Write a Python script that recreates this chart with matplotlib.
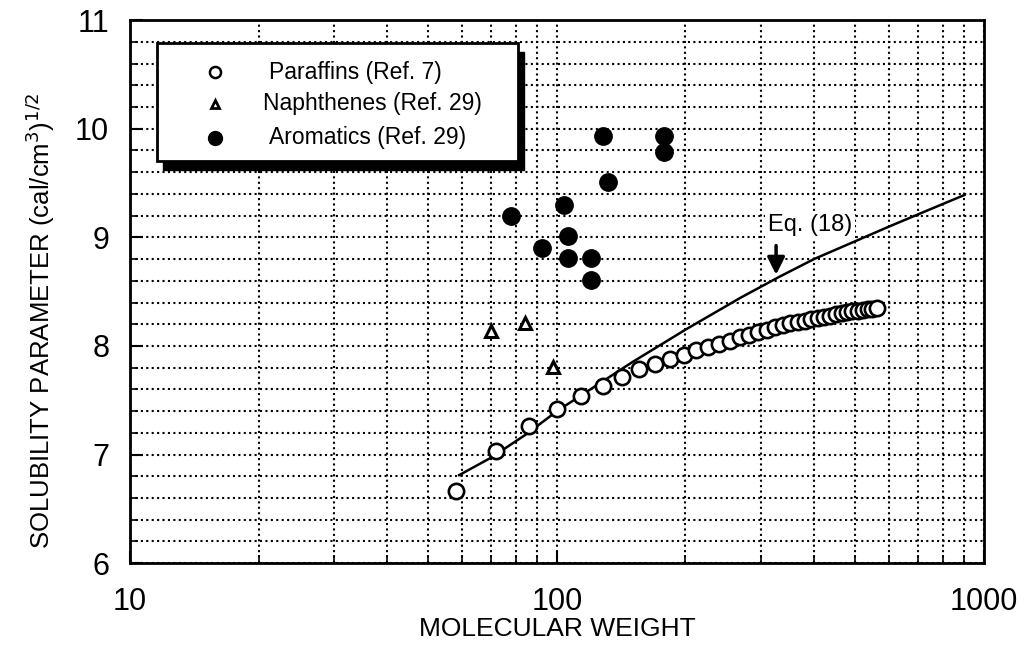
import numpy as np
import matplotlib.pyplot as plt
from matplotlib.patches import Rectangle
from matplotlib.ticker import FixedLocator, NullFormatter

plt.rcParams['font.family'] = ['Liberation Sans', 'DejaVu Sans']

# paraffins (Ref. 7), n-alkanes C4..C40
paraffin_mw = [58, 72, 86, 100, 114, 128, 142, 156, 170, 184, 198, 212, 226,
               240, 254, 268, 282, 296, 310, 324, 338, 352, 366, 380, 394,
               408, 422, 436, 450, 464, 478, 492, 506, 520, 534, 548, 562]
paraffin_sp = [6.66, 7.03, 7.26, 7.42, 7.54, 7.63, 7.71, 7.79, 7.83, 7.88,
               7.92, 7.96, 7.99, 8.02, 8.05, 8.08, 8.10, 8.13, 8.15, 8.17,
               8.19, 8.21, 8.22, 8.23, 8.25, 8.26, 8.27, 8.28, 8.29, 8.30,
               8.31, 8.32, 8.32, 8.33, 8.34, 8.34, 8.35]

# naphthenes (Ref. 29)
naph_mw = [70, 84, 98]
naph_sp = [8.14, 8.21, 7.81]

# aromatics (Ref. 29)
arom_mw = [78, 92, 104, 106, 106, 120, 120, 128, 132, 178, 178]
arom_sp = [9.20, 8.90, 9.30, 9.01, 8.81, 8.81, 8.61, 9.93, 9.51, 9.93, 9.79]

# Eq. (18)
eq_mw = [59, 70, 85, 100, 150, 200, 268, 333, 400, 490, 600, 750, 900]
eq_sp = [6.81, 6.97, 7.19, 7.40, 7.85, 8.15, 8.44, 8.64, 8.80, 8.95, 9.10,
         9.26, 9.39]

fig = plt.figure(figsize=(10.26, 6.51), dpi=100)
ax = fig.add_axes([0.1267, 0.135, 0.8323, 0.834])

ax.plot(eq_mw, eq_sp, color='black', lw=1.8, zorder=3)
ax.plot(paraffin_mw, paraffin_sp, 'o', ms=11, mfc='white', mec='black',
        mew=1.9, zorder=4)
ax.plot(naph_mw, naph_sp, '^', ms=8, mfc='white', mec='black', mew=2.2,
        zorder=4)
ax.plot(arom_mw, arom_sp, 'o', ms=12.5, color='black', zorder=4)

ax.set_xscale('log')
ax.set_xlim(10, 1000)
ax.set_ylim(6, 11)
ax.set_xticks([10, 100, 1000])
ax.set_xticklabels(['10', '100', '1000'])
minor_x = [m * d for d in (10, 100) for m in range(2, 10)]
ax.xaxis.set_minor_locator(FixedLocator(minor_x))
ax.xaxis.set_minor_formatter(NullFormatter())
ax.set_yticks([6, 7, 8, 9, 10, 11])
ax.yaxis.set_minor_locator(FixedLocator(np.arange(6, 11.01, 0.2)))

ax.grid(True, which='both', linestyle=(0, (1, 1.6)), color='black', lw=1.5)
ax.tick_params(which='major', direction='in', length=9, width=1.5,
               labelsize=22)
ax.tick_params(axis='x', which='major', pad=17)
ax.tick_params(axis='y', which='major', pad=15)
ax.tick_params(which='minor', direction='in', length=6, width=1.2)
for s in ax.spines.values():
    s.set_linewidth(2)

ax.set_xlabel('MOLECULAR WEIGHT', fontsize=19)
ax.xaxis.set_label_coords(0.5, -0.099)
ax.set_ylabel('SOLUBILITY PARAMETER (cal/cm$^3$)$^{1/2}$', fontsize=18.5)
ax.yaxis.set_label_coords(-0.086, 0.447)

# Eq. (18) label and arrow
ax.text(0.796, 0.622, 'Eq. (18)', transform=ax.transAxes, fontsize=17,
        ha='center', va='center', zorder=5,
        bbox=dict(facecolor='white', edgecolor='none', pad=2))
ax.annotate('', xy=(326, 8.63), xytext=(326, 8.95),
            arrowprops=dict(arrowstyle='-|>', color='black', lw=2.5,
                            mutation_scale=26), zorder=5)

# legend box with black drop shadow
x0, y0, w, h = 0.032, 0.74, 0.422, 0.218
ax.add_patch(Rectangle((x0 + 0.007, y0 - 0.016), w, h, transform=ax.transAxes,
                       facecolor='black', edgecolor='black', zorder=6))
ax.add_patch(Rectangle((x0, y0), w, h, transform=ax.transAxes,
                       facecolor='white', edgecolor='black', lw=2, zorder=7))
rows = [0.904, 0.846, 0.783]
ax.plot([0.100], [rows[0]], 'o', ms=8, mfc='white', mec='black', mew=1.8,
        transform=ax.transAxes, zorder=8)
ax.plot([0.100], [rows[1]], '^', ms=6, mfc='white', mec='black', mew=2,
        transform=ax.transAxes, zorder=8)
ax.plot([0.100], [rows[2]], 'o', ms=10, color='black',
        transform=ax.transAxes, zorder=8)
labels = ['Paraffins (Ref. 7)', 'Naphthenes (Ref. 29)', 'Aromatics (Ref. 29)']
label_x = [0.163, 0.156, 0.163]
for lx, ly, lab in zip(label_x, rows, labels):
    ax.text(lx, ly, lab, transform=ax.transAxes, fontsize=16.5,
            ha='left', va='center', zorder=8)

fig.savefig('out.png', dpi=100)
